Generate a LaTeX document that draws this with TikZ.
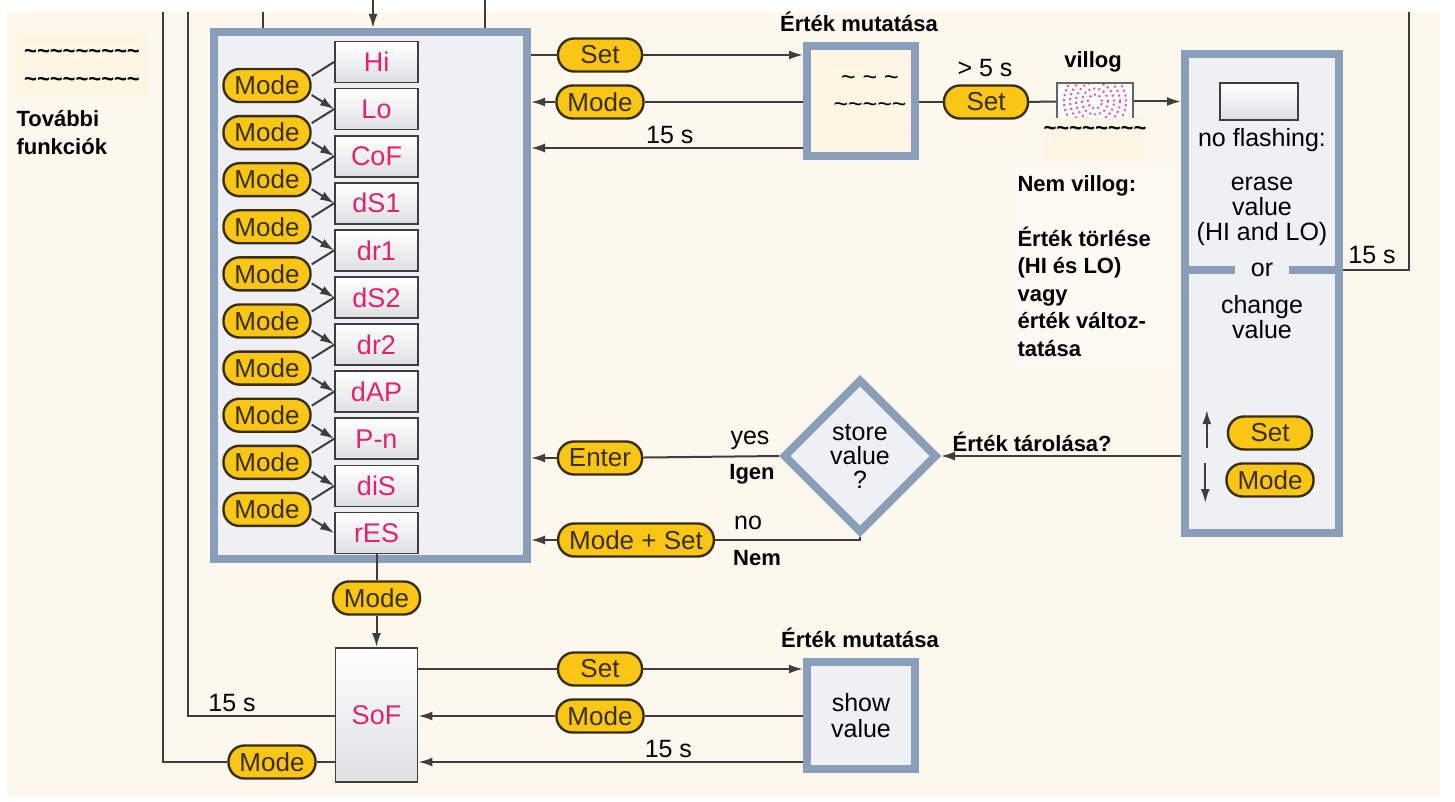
\documentclass[tikz,border=0pt]{standalone}
\usepackage{fontspec}
\setmainfont{Liberation Sans}
\usetikzlibrary{calc,arrows.meta,shapes.geometric,positioning}
\tikzset{>={Latex[length=14pt,width=9pt]}}
\definecolor{paper}{RGB}{252,248,237}
\definecolor{patch}{RGB}{255,245,228}
\definecolor{frame}{RGB}{138,158,186}
\definecolor{panel}{RGB}{238,240,243}
\definecolor{keyfill}{RGB}{249,198,22}
\definecolor{keyline}{RGB}{58,46,14}
\definecolor{segtext}{RGB}{226,34,110}
\definecolor{wirec}{RGB}{62,62,62}
\newcommand{\tld}{\textasciitilde}

\tikzset{
  btn/.style={draw=keyline, line width=2.4pt, fill=keyfill, text=keyline, rounded corners=16pt,
    minimum height=33pt, minimum width=84pt, inner xsep=11pt, inner ysep=2pt, font=\fontsize{26}{26}\selectfont},
  seg/.style={draw=wirec, line width=1.8pt, top color=white, bottom color=panel!85!gray,
    minimum width=83pt, minimum height=41pt, text=segtext, font=\fontsize{27}{27}\selectfont},
  panelbox/.style={draw=frame, line width=8pt, fill=panel},
  decide/.style={diamond, draw=frame, line width=8pt, fill=panel, minimum width=154pt, minimum height=154pt,
    inner sep=0pt, align=center, font=\fontsize{25}{24}\selectfont},
  flashbox/.style={draw=wirec!80, line width=1.5pt, fill=white, minimum width=76pt, minimum height=37pt,
    path picture={\foreach \r in {7,13,19,25,31}
      \draw[segtext!75, line width=2pt, dash pattern=on 2pt off 3pt] (path picture bounding box.center) circle (\r pt);}},
  wire/.style={draw=wirec, line width=2pt},
  lbl/.style={font=\fontsize{25}{25}\selectfont, align=center},
  note/.style={font=\bfseries\fontsize{22}{27.5}\selectfont, align=left},
}

\begin{document}
\begin{tikzpicture}[x=1pt,y=-1pt]
\useasboundingbox (0,0) rectangle (1455,802);
\fill[paper] (7,12) rectangle (1440,797);

% covered notes
\fill[patch] (15,35) rectangle (147,97);
\node[note, align=center] at (82,68) {\tld\tld\tld\tld\tld\tld\tld\tld\tld\\\tld\tld\tld\tld\tld\tld\tld\tld\tld};
\node[note, anchor=north west] at (13,107) {További\\funkciók};
\fill[white!35!paper] (1012,168) rectangle (1176,370);
\node[note, anchor=north west] at (1014,172) {Nem villog:\\[27.5pt]Érték törlése\\(HI és LO)\\vagy\\érték változ-\\tatása};

% main menu
\node[panelbox, minimum width=313pt, minimum height=527pt] (menu) at (370.5,295.5) {};
\foreach \txt [count=\i from 0] in {Hi,Lo,CoF,dS1,dr1,dS2,dr2,dAP,P-n,diS,rES}
  \node[seg] (d\i) at (376.5,62+47.1*\i) {\txt};
\foreach \i [count=\j] in {0,...,9} {
  \node[btn, minimum width=80pt] (m\i) at (267,85.5+47.1*\i) {Mode};
  \draw[wire] (d\i.west) -- (m\i.12);
  \draw[wire,->] (m\i.-12) -- (d\j.west);
}

% lines from above
\coordinate (topa) at (163,12);
\coordinate (topb) at (188,12);
\coordinate (topc) at (263,12);
\coordinate (in1) at (373,0);
\coordinate (in2) at (485,0);
\draw[wire] (topc) -- (menu.north -| topc);
\draw[wire,->] (in1) -- (menu.north -| in1);
\draw[wire] (in2) -- (menu.north -| in2);

% show value (top)
\node[btn] (kset) at (600,55) {Set};
\node[btn] (kmode) at (600,102) {Mode};
\node[panelbox, fill=patch, minimum width=108pt, minimum height=110pt] (show1) at (861,101) {};
\node[lbl, font=\fontsize{25}{27}\selectfont] at (870,94) {\tld~\tld~\tld\\\tld\tld\tld\tld\tld};
\node[note] at (859,22) {Érték mutatása};
\draw[wire] (menu.east |- kset) -- (kset);
\draw[wire,->] (kset) -- (show1.west |- kset);
\draw[wire] (show1.west |- kmode) -- (kmode);
\draw[wire,->] (kmode) -- (menu.east |- kmode);
\draw[wire,->] (show1.west |- 0,148) -- node[lbl, above, pos=0.49] {15 s} (menu.east |- 0,148);

% long press
\node[btn] (kset2) at (986,102) {Set};
\node[lbl] at (985,68) {> 5 s};
\node[flashbox] (flash) at (1095,101.5) {};
\node[note] at (1093,62) {villog};
\fill[patch] (1045,118) rectangle (1145,160);
\node[note] at (1095,131) {\tld\tld\tld\tld\tld\tld\tld\tld};
\draw[wire] (show1.east |- kset2) -- (kset2);
\draw[wire] (kset2) -- (flash);

% edit box
\node[panelbox, minimum width=154pt, minimum height=479pt] (edit) at (1262,293.5) {};
\draw[wire,->] (flash) -- (edit.west |- flash);
\node[seg, minimum width=78pt, minimum height=37pt] (blank) at (1259,101.5) {};
\node[lbl] at (1262,140) {no flashing:};
\node[lbl] at (1262,211) {erase\\value\\(HI and LO)};
\node[lbl, inner xsep=16pt] (ortext) at (1262,270) {or};
\draw[frame, line width=8pt] (edit.west |- ortext) -- (ortext.west);
\draw[frame, line width=8pt] (ortext.east) -- (edit.east |- ortext);
\node[lbl] at (1262,317) {change\\value};
\node[btn, minimum width=84pt] (kup) at (1270,433) {Set};
\node[btn, minimum width=84pt] (kdn) at (1270,480) {Mode};
\draw[wire,->] ($(kup.west)+(-20,15)$) -- ($(kup.west)+(-20,-23)$);
\draw[wire,->] ($(kdn.west)+(-20,-17)$) -- ($(kdn.west)+(-20,23)$);
\coordinate (topr) at (1409,12);
\draw[wire] (edit.east |- ortext) -- (topr |- ortext) -- (topr);
\node[lbl] at (1372,255) {15 s};

% store decision
\node[decide] (store) at (860,456) {store\\value\\?};
\draw[wire,->] (edit.west |- store) -- node[note, above, pos=0.62] {Érték tárolása?} (store.east);
\node[btn] (kenter) at (600,458) {Enter};
\draw[wire] (store.west) -- (kenter);
\draw[wire,->] (kenter) -- (menu.east |- kenter);
\node[lbl] at (750,440) {yes};
\node[note] at (752,474) {Igen};
\node[btn] (kboth) at (636,540) {Mode + Set};
\draw[wire] (store.south) |- (kboth);
\draw[wire,->] (kboth) -- (menu.east |- kboth);
\node[lbl] at (748,523) {no};
\node[note] at (757,558) {Nem};

% SoF
\node[btn] (kmode0) at (376.5,598) {Mode};
\node[seg, minimum width=82pt, minimum height=134pt] (sof) at (376.5,715) {SoF};
\draw[wire] (d10) -- (kmode0);
\draw[wire,->] (kmode0) -- (sof);
\node[btn] (kset3) at (600,669) {Set};
\node[btn] (kmode3) at (600,716) {Mode};
\node[panelbox, minimum width=108pt, minimum height=107pt, font=\fontsize{25}{26}\selectfont, align=center] (show2) at (861,715.5) {show\\value};
\node[note] at (860,638) {Érték mutatása};
\draw[wire] (sof.east |- kset3) -- (kset3);
\draw[wire,->] (kset3) -- (show2.west |- kset3);
\draw[wire] (show2.west |- kmode3) -- (kmode3);
\draw[wire,->] (kmode3) -- (sof.east |- kmode3);
\draw[wire,->] (show2.west |- 0,762) -- node[lbl, above, pos=0.35] {15 s} (sof.east |- 0,762);
\draw[wire] (sof.west |- 0,716) -- node[lbl, above, pos=0.7] {15 s} (topb |- 0,716) -- (topb);
\node[btn, minimum width=80pt] (kback) at (272,762) {Mode};
\draw[wire] (sof.west |- kback) -- (kback);
\draw[wire] (kback) -- (topa |- kback) -- (topa);

\end{tikzpicture}
\end{document}
